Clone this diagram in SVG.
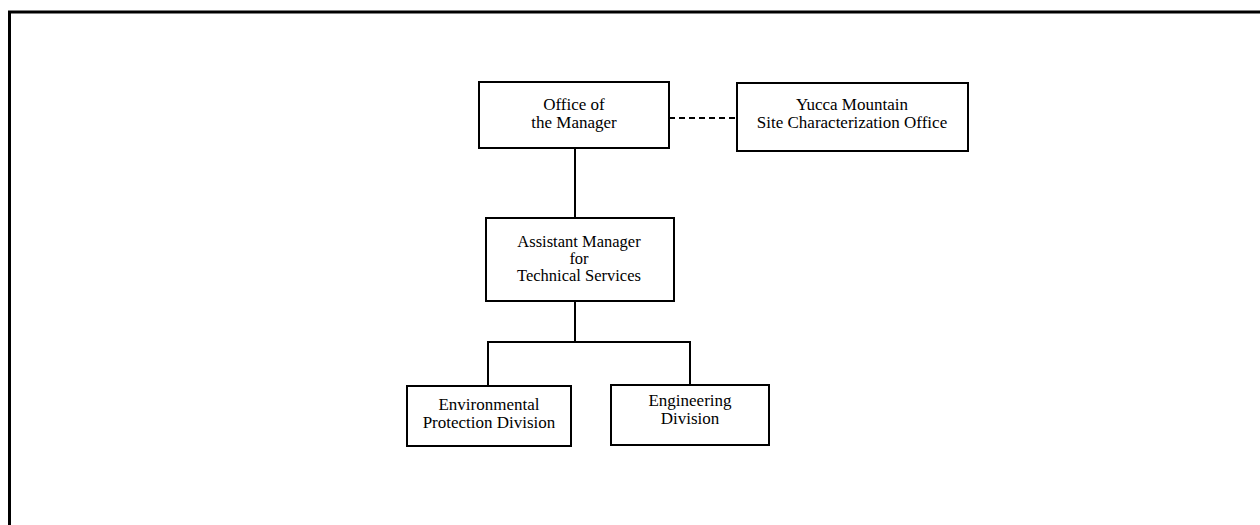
<svg xmlns="http://www.w3.org/2000/svg" width="1260" height="525" viewBox="0 0 1260 525">
  <style>
    .box { fill: #ffffff; stroke: #000000; stroke-width: 2; }
    .lbl { font-family: "Liberation Serif", "Times New Roman", serif; font-size: 17px; fill: #000000; text-anchor: middle; }
    .lbl3 { font-size: 16.5px; }
    .wire { fill: none; stroke: #000000; stroke-width: 2; }
    .dash { fill: none; stroke: #000000; stroke-width: 2; stroke-dasharray: 6 4; }
    .frame { fill: none; stroke: #000000; stroke-width: 3; }
  </style>

  <rect x="0" y="0" width="1260" height="525" fill="#ffffff"/>

  <!-- page frame: top rule and left rule -->
  <path class="frame" d="M9.5 525 V12 H1260"/>

  <!-- connectors -->
  <g id="connectors">
    <path class="dash" d="M669 118 H737"/>
    <path class="wire" d="M575 148 V218"/>
    <path class="wire" d="M575 301 V342"/>
    <path class="wire" d="M488 386 V342 H690 V385"/>
  </g>

  <g id="office-of-the-manager">
    <rect class="box" x="479" y="82" width="190" height="66"/>
    <text class="lbl" x="574" y="110">Office of</text>
    <text class="lbl" x="574" y="128">the Manager</text>
  </g>

  <g id="yucca-mountain-office">
    <rect class="box" x="737" y="83" width="231" height="68"/>
    <text class="lbl" x="852" y="110">Yucca Mountain</text>
    <text class="lbl" x="852" y="128">Site Characterization Office</text>
  </g>

  <g id="assistant-manager">
    <rect class="box" x="486" y="218" width="188" height="83"/>
    <text class="lbl lbl3" x="579" y="247">Assistant Manager</text>
    <text class="lbl lbl3" x="579" y="264">for</text>
    <text class="lbl lbl3" x="579" y="281">Technical Services</text>
  </g>

  <g id="environmental-protection">
    <rect class="box" x="407" y="386" width="164" height="60"/>
    <text class="lbl" x="489" y="410">Environmental</text>
    <text class="lbl" x="489" y="428">Protection Division</text>
  </g>

  <g id="engineering-division">
    <rect class="box" x="611" y="385" width="158" height="60"/>
    <text class="lbl" x="690" y="406">Engineering</text>
    <text class="lbl" x="690" y="424">Division</text>
  </g>
</svg>
